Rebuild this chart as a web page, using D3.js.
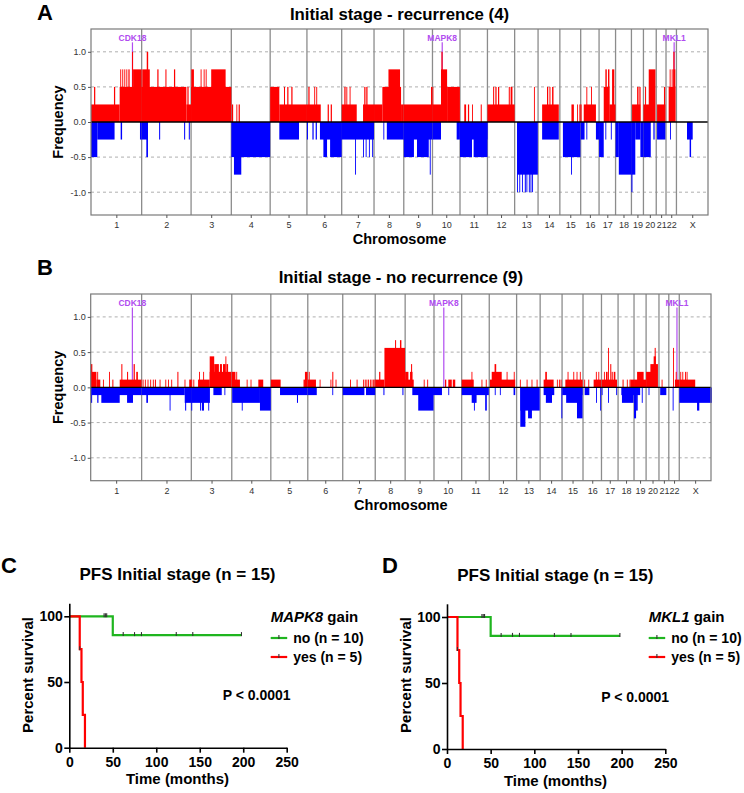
<!DOCTYPE html>
<html>
<head>
<meta charset="utf-8">
<script src="https://cdn.jsdelivr.net/npm/d3@7"></script>
<style>
  body { margin: 0; background: #fff; }
  text { font-family: Arial, "Liberation Sans", sans-serif; }
</style>
</head>
<body>
<div id="chart-area"></div>
<script>
// ---- DATA ----
var chromosomes = ["1", "2", "3", "4", "5", "6", "7", "8", "9", "10", "11", "12",
    "13", "14", "15", "16", "17", "18", "19", "20", "21", "22", "X"];
var chromLengths = [249.3, 243.2, 198.0, 191.2, 180.9, 171.1, 159.1, 146.4, 141.2, 135.5, 135.0, 133.9,
    115.2, 107.3, 102.5, 90.4, 81.2, 78.1, 59.1, 63.0, 48.1, 51.3, 155.3];
var freqTicks = [-1.0, -0.5, 0.0, 0.5, 1.0];
var gridValues = [-1.0, -0.5, 0.5, 1.0];

var geneNames = ["CDK18", "MAPK8", "MKL1"];
var geneChroms = ["1", "10", "22"];
var genePositions = [204, 48, 40];

// [chromosome, start Mb, end Mb, frequency]
var recurrenceGain = [
    ["1", 0, 141, 0.25], ["1", 15, 21, 0.5], ["1", 113, 119, 0.5], ["1", 141, 249, 0.5],
    ["1", 144, 148, 0.75], ["1", 154, 158, 0.75], ["1", 164, 168, 0.75], ["1", 174, 178, 0.75],
    ["1", 184, 190, 0.75], ["1", 202, 207, 1.0], ["1", 207, 249, 0.75],
    ["2", 0, 220, 0.5], ["2", 220, 243, 0.25], ["2", 3, 40, 0.75], ["2", 25, 32, 1.0],
    ["2", 77, 83, 0.75], ["2", 117, 122, 0.75], ["2", 159, 165, 0.75], ["2", 225, 231, 0.5],
    ["3", 0, 198, 0.5], ["3", 1, 14, 0.75], ["3", 47, 51, 0.75], ["3", 62, 66, 0.75],
    ["3", 72, 76, 0.75], ["3", 99, 170, 0.75],
    ["4", 3, 9, 0.25], ["4", 25, 29, 0.25], ["4", 36, 42, 0.25],
    ["5", 0, 45, 0.5], ["5", 45, 181, 0.25], ["5", 68, 73, 0.5], ["5", 84, 90, 0.5], ["5", 104, 110, 0.5],
    ["6", 0, 68, 0.25], ["6", 7, 13, 0.5], ["6", 36, 40, 0.5], ["6", 46, 50, 0.5],
    ["6", 102, 108, 0.25], ["6", 117, 123, 0.25],
    ["7", 0, 74, 0.25], ["7", 13, 19, 0.5], ["7", 23, 27, 0.5], ["7", 39, 43, 0.5],
    ["7", 105, 159, 0.25], ["7", 111, 117, 0.5], ["7", 121, 127, 0.5],
    ["8", 0, 41, 0.25], ["8", 48, 53, 0.5], ["8", 41, 133, 0.5], ["8", 71, 128, 0.75], ["8", 133, 146, 0.25],
    ["9", 0, 141, 0.25], ["9", 134, 139, 0.5],
    ["10", 0, 42, 0.25], ["10", 0, 4, 0.5], ["10", 42, 72, 0.75], ["10", 44, 50, 1.0], ["10", 72, 135, 0.5],
    ["11", 21, 30, 0.25], ["11", 39, 45, 0.25], ["11", 59, 63, 0.25], ["11", 102, 107, 0.25],
    ["12", 0, 134, 0.25], ["12", 28, 33, 0.5], ["12", 39, 45, 0.5], ["12", 52, 58, 0.5],
    ["12", 105, 110, 0.5], ["12", 114, 123, 0.5],
    ["13", 95, 99, 0.5],
    ["14", 20, 102, 0.25], ["14", 44, 50, 0.5], ["14", 56, 61, 0.5], ["14", 69, 76, 0.5],
    ["15", 57, 69, 0.25], ["15", 85, 89, 0.25], ["15", 96, 102, 0.25],
    ["16", 0, 4, 0.25], ["16", 15, 75, 0.25], ["16", 28, 32, 0.5], ["16", 51, 55, 0.5],
    ["17", 23, 51, 0.5], ["17", 51, 81, 0.25], ["17", 31, 38, 0.75], ["17", 44, 51, 0.75], ["17", 64, 75, 0.75],
    ["19", 3, 44, 0.25], ["19", 28, 35, 0.5], ["19", 39, 45, 0.5],
    ["20", 0, 28, 0.25], ["20", 8, 13, 0.5], ["20", 26, 59, 0.75],
    ["21", 4, 45, 0.25], ["21", 38, 44, 0.5],
    ["22", 13, 46, 0.5], ["22", 18, 22, 0.75], ["22", 28, 32, 0.75], ["22", 36, 46, 0.75], ["22", 36, 42, 1.0]
];
var recurrenceLoss = [
    ["1", 0, 31, -0.5], ["1", 31, 116, -0.25], ["1", 146, 153, -0.25], ["1", 241, 249, -0.25],
    ["2", 0, 31, -0.25], ["2", 23, 31, -0.5], ["2", 86, 91, -0.25], ["2", 209, 214, -0.25], ["2", 232, 237, -0.25],
    ["4", 0, 191, -0.5], ["4", 13, 49, -0.75],
    ["5", 45, 142, -0.25],
    ["6", 0, 5, -0.25], ["6", 27, 33, -0.25], ["6", 43, 49, -0.25], ["6", 64, 171, -0.25],
    ["6", 81, 99, -0.5], ["6", 114, 171, -0.5],
    ["7", 0, 159, -0.25], ["7", 66, 70, -0.75], ["7", 105, 109, -0.5], ["7", 118, 122, -0.5],
    ["7", 134, 138, -0.5], ["7", 150, 154, -0.5],
    ["8", 46, 50, -0.25], ["8", 63, 146, -0.25],
    ["9", 0, 141, -0.25], ["9", 0, 50, -0.5], ["9", 65, 123, -0.5], ["9", 128, 132, -0.75],
    ["10", 0, 42, -0.25], ["10", 119, 135, -0.25],
    ["11", 0, 135, -0.25], ["11", 0, 59, -0.5], ["11", 67, 135, -0.5],
    ["13", 12, 114, -0.75], ["13", 12, 16, -1.0], ["13", 23, 27, -1.0], ["13", 36, 40, -1.0],
    ["13", 50, 55, -1.0], ["13", 58, 62, -1.0], ["13", 70, 74, -1.0], ["13", 78, 82, -1.0], ["13", 86, 90, -1.0],
    ["14", 20, 102, -0.25],
    ["15", 15, 101, -0.5], ["15", 55, 59, -0.75],
    ["16", 0, 19, -0.25], ["16", 28, 32, -0.25], ["16", 75, 90, -0.25],
    ["17", 0, 23, -0.5], ["17", 31, 35, -0.25], ["17", 58, 62, -0.25],
    ["18", 0, 16, -0.5], ["18", 16, 78, -0.75],
    ["19", 0, 19, -0.75], ["19", 0, 5, -1.0], ["19", 19, 44, -0.25], ["19", 44, 59, -0.5],
    ["20", 0, 36, -0.5], ["20", 49, 55, -0.25],
    ["21", 4, 45, -0.25],
    ["22", 20, 24, -0.25],
    ["X", 52, 80, -0.25], ["X", 65, 72, -0.5]
];

var noRecurrenceGain = [
    ["1", 1, 28, 0.22], ["1", 1, 8, 0.33], ["1", 28, 47, 0.11], ["1", 32, 36, 0.22], ["1", 60, 64, 0.11],
    ["1", 90, 94, 0.22], ["1", 106, 111, 0.11], ["1", 142, 249, 0.11], ["1", 150, 155, 0.33],
    ["1", 178, 183, 0.22], ["1", 210, 216, 0.33], ["1", 223, 231, 0.22],
    ["2", 5, 9, 0.11], ["2", 16, 20, 0.11], ["2", 29, 33, 0.11], ["2", 42, 46, 0.11], ["2", 55, 59, 0.11],
    ["2", 65, 70, 0.11], ["2", 88, 92, 0.11], ["2", 116, 120, 0.11], ["2", 129, 133, 0.11],
    ["2", 145, 149, 0.11], ["2", 175, 180, 0.22], ["2", 210, 214, 0.11], ["2", 233, 243, 0.11],
    ["3", 0, 3, 0.11], ["3", 10, 14, 0.11], ["3", 33, 90, 0.11], ["3", 38, 42, 0.22], ["3", 58, 62, 0.22],
    ["3", 90, 196, 0.22], ["3", 90, 112, 0.44], ["3", 112, 135, 0.33], ["3", 140, 150, 0.33],
    ["3", 155, 168, 0.33], ["3", 167, 171, 0.44], ["3", 172, 180, 0.33],
    ["4", 0, 40, 0.11], ["4", 0, 18, 0.22], ["4", 22, 26, 0.22], ["4", 73, 77, 0.11], ["4", 92, 96, 0.11],
    ["4", 130, 154, 0.11],
    ["5", 0, 48, 0.11], ["5", 160, 167, 0.11], ["5", 167, 180, 0.22],
    ["6", 0, 40, 0.11], ["6", 5, 8, 0.22], ["6", 58, 62, 0.11], ["6", 111, 115, 0.11], ["6", 120, 125, 0.22],
    ["6", 136, 140, 0.11],
    ["7", 36, 40, 0.11], ["7", 68, 72, 0.11], ["7", 100, 103, 0.11], ["7", 108, 111, 0.11],
    ["7", 116, 119, 0.11], ["7", 124, 127, 0.11], ["7", 133, 136, 0.11], ["7", 141, 144, 0.11],
    ["7", 149, 152, 0.11], ["7", 155, 159, 0.11],
    ["8", 0, 45, 0.11], ["8", 19, 25, 0.22], ["8", 45, 146, 0.56], ["8", 97, 102, 0.67], ["8", 121, 128, 0.67],
    ["9", 0, 42, 0.11], ["9", 0, 16, 0.22], ["9", 24, 36, 0.22], ["9", 29, 34, 0.33], ["9", 91, 95, 0.11],
    ["9", 108, 112, 0.11],
    ["10", 54, 60, 0.11], ["10", 70, 87, 0.11], ["10", 92, 104, 0.11],
    ["11", 0, 59, 0.11], ["11", 48, 52, 0.22], ["11", 97, 101, 0.11], ["11", 118, 122, 0.11],
    ["12", 3, 127, 0.11], ["12", 12, 61, 0.22], ["12", 26, 34, 0.33], ["12", 85, 89, 0.22], ["12", 120, 124, 0.22],
    ["13", 16, 20, 0.11], ["13", 49, 53, 0.11], ["13", 73, 77, 0.11], ["13", 98, 102, 0.11],
    ["14", 17, 66, 0.11], ["14", 25, 33, 0.22], ["14", 82, 86, 0.11], ["14", 92, 96, 0.11], ["14", 100, 104, 0.11],
    ["15", 16, 101, 0.11], ["15", 27, 31, 0.22], ["15", 55, 59, 0.22], ["15", 71, 75, 0.22], ["15", 87, 91, 0.22],
    ["16", 6, 10, 0.11], ["16", 26, 30, 0.11], ["16", 52, 90, 0.11], ["16", 63, 67, 0.22], ["16", 75, 79, 0.22],
    ["17", 2, 76, 0.11], ["17", 12, 16, 0.22], ["17", 22, 30, 0.22], ["17", 32, 36, 0.56], ["17", 43, 48, 0.33],
    ["17", 50, 55, 0.22], ["17", 60, 68, 0.22],
    ["18", 22, 27, 0.11], ["18", 43, 46, 0.11], ["18", 56, 59, 0.11], ["18", 60, 78, 0.11],
    ["19", 0, 59, 0.11], ["19", 15, 47, 0.22],
    ["20", 0, 29, 0.22], ["20", 21, 58, 0.33], ["20", 37, 48, 0.44], ["20", 42, 47, 0.56],
    ["21", 13, 17, 0.11],
    ["22", 21, 25, 0.56], ["22", 30, 50, 0.11], ["22", 34, 38, 0.22],
    ["X", 0, 78, 0.11], ["X", 5, 9, 0.22], ["X", 15, 19, 0.22], ["X", 28, 32, 0.22], ["X", 36, 40, 0.22]
];
var noRecurrenceLoss = [
    ["1", 0, 249, -0.11], ["1", 1, 7, -0.22], ["1", 32, 38, -0.22], ["1", 52, 142, -0.22], ["1", 178, 207, -0.22],
    ["2", 0, 211, -0.11], ["2", 23, 31, -0.22], ["2", 137, 141, -0.33], ["2", 211, 243, -0.22], ["2", 213, 218, -0.33],
    ["3", 0, 91, -0.22], ["3", 0, 3, -0.33], ["3", 43, 48, -0.33], ["3", 52, 62, -0.33], ["3", 83, 87, -0.33],
    ["3", 108, 149, -0.11], ["3", 162, 165, -0.11],
    ["4", 2, 138, -0.22], ["4", 49, 53, -0.33], ["4", 138, 191, -0.33],
    ["5", 45, 180, -0.11], ["5", 128, 133, -0.22],
    ["6", 0, 44, -0.11], ["6", 120, 124, -0.11],
    ["7", 0, 106, -0.11], ["7", 114, 159, -0.11],
    ["8", 40, 45, -0.11], ["8", 133, 138, -0.11],
    ["9", 35, 141, -0.11], ["9", 64, 139, -0.33],
    ["10", 0, 39, -0.11], ["10", 70, 74, -0.11],
    ["11", 0, 133, -0.11], ["11", 49, 73, -0.22], ["11", 60, 64, -0.33], ["11", 115, 123, -0.33],
    ["12", 27, 31, -0.11], ["12", 52, 56, -0.11], ["12", 119, 127, -0.11],
    ["13", 18, 113, -0.33], ["13", 18, 43, -0.56], ["13", 56, 75, -0.44],
    ["14", 17, 69, -0.11], ["14", 28, 58, -0.22], ["14", 104, 106, -0.44],
    ["15", 1, 100, -0.11], ["15", 20, 97, -0.22], ["15", 73, 100, -0.44],
    ["16", 8, 31, -0.11], ["16", 64, 67, -0.22], ["16", 84, 87, -0.33],
    ["17", 1, 4, -0.11], ["17", 32, 36, -0.22], ["17", 72, 76, -0.11],
    ["18", 16, 78, -0.11], ["18", 19, 76, -0.22],
    ["19", 0, 30, -0.11], ["19", 0, 10, -0.44], ["19", 10, 18, -0.33], ["19", 38, 42, -0.22],
    ["20", 12, 15, -0.11],
    ["21", 6, 36, -0.11],
    ["22", 19, 23, -0.33],
    ["X", 0, 160, -0.22], ["X", 87, 98, -0.33]
];

// Kaplan-Meier (PFS, months / percent survival)
var kmTimeTicks = [0, 50, 100, 150, 200, 250];
var kmSurvTicks = [0, 50, 100];
var noGainTimes = [0, 50, 198];
var noGainSurvival = [100, 85.7, 85.7];
var noGainCensored = [40, 41.5, 43, 62, 75, 83, 123, 142, 198];
var yesGainTimes = [0, 12, 14, 15.5, 18];
var yesGainSurvival = [100, 75, 50, 25, 0];
var yesGainCensored = [12];

var RED = "#ff0000", BLUE = "#0000ff", PURPLE = "#b14cf0", GREEN = "#1fb51f";

var svg = d3.select("#chart-area").append("svg")
    .attr("width", 744).attr("height", 793);

// ---- COPY NUMBER FREQUENCY PANELS ----
function drawFrequency(cfg) {
    var total = d3.sum(chromLengths);
    var ends = Array.from(d3.cumsum(chromLengths));
    var starts = ends.map(function (e, i) { return e - chromLengths[i]; });
    var mids = starts.map(function (s, i) { return s + chromLengths[i] / 2; });
    var idx = {};
    chromosomes.forEach(function (c, i) { idx[c] = i; });

    var x = d3.scaleLinear().domain([0, total]).range([cfg.left, cfg.right]);
    var y = d3.scaleLinear().domain([-1.325, 1.325]).range([cfg.bottom, cfg.top]);
    function gx(chr, mb) { return x(starts[idx[chr]] + mb); }

    var g = svg.append("g");

    // dashed grid
    g.selectAll(".grid").data(gridValues).enter().append("line")
        .attr("x1", cfg.left).attr("x2", cfg.right)
        .attr("y1", function (d) { return y(d); }).attr("y2", function (d) { return y(d); })
        .attr("stroke", "#9a9a9a").attr("stroke-width", 0.8).attr("stroke-dasharray", "3,3");

    // chromosome separators
    g.selectAll(".sep").data(ends.slice(0, -1)).enter().append("line")
        .attr("x1", function (d) { return x(d); }).attr("x2", function (d) { return x(d); })
        .attr("y1", cfg.top).attr("y2", cfg.bottom)
        .attr("stroke", "#8c8c8c").attr("stroke-width", 1.3);

    // gene markers
    g.selectAll(".gene").data(geneNames).enter().append("line")
        .attr("x1", function (d, i) { return gx(geneChroms[i], genePositions[i]); })
        .attr("x2", function (d, i) { return gx(geneChroms[i], genePositions[i]); })
        .attr("y1", y(1.135)).attr("y2", y(0))
        .attr("stroke", PURPLE).attr("stroke-width", 1.2);

    // gains
    g.selectAll(".gain").data(cfg.gains).enter().append("rect")
        .attr("x", function (d) { return gx(d[0], d[1]); })
        .attr("width", function (d) { return Math.max(0.9, gx(d[0], d[2]) - gx(d[0], d[1])); })
        .attr("y", function (d) { return y(d[3]); })
        .attr("height", function (d) { return y(0) - y(d[3]); })
        .attr("fill", RED);

    // losses
    g.selectAll(".loss").data(cfg.losses).enter().append("rect")
        .attr("x", function (d) { return gx(d[0], d[1]); })
        .attr("width", function (d) { return Math.max(0.9, gx(d[0], d[2]) - gx(d[0], d[1])); })
        .attr("y", y(0))
        .attr("height", function (d) { return y(d[3]) - y(0); })
        .attr("fill", BLUE);

    // zero line
    g.append("line")
        .attr("x1", cfg.left).attr("x2", cfg.right)
        .attr("y1", y(0)).attr("y2", y(0))
        .attr("stroke", "#000").attr("stroke-width", 1.4);

    // frame
    g.append("rect")
        .attr("x", cfg.left).attr("y", cfg.top)
        .attr("width", cfg.right - cfg.left).attr("height", cfg.bottom - cfg.top)
        .attr("fill", "none").attr("stroke", "#7a7a7a").attr("stroke-width", 1.2);

    // gene labels
    g.selectAll(".geneLabel").data(geneNames).enter().append("text")
        .attr("x", function (d, i) { return gx(geneChroms[i], genePositions[i]); })
        .attr("y", y(1.15))
        .attr("text-anchor", "middle")
        .attr("font-size", "8.5px").attr("font-weight", "bold")
        .attr("fill", PURPLE)
        .text(function (d) { return d; });

    // Y AXIS
    var yAxisCall = d3.axisLeft(y).tickValues(freqTicks)
        .tickFormat(function (d) { return d.toFixed(1); })
        .tickSize(3).tickPadding(2);
    var yAxis = g.append("g").attr("transform", "translate(" + cfg.left + ",0)").call(yAxisCall);
    yAxis.select(".domain").remove();
    yAxis.selectAll("line").attr("stroke", "#555");
    yAxis.selectAll("text").attr("font-size", "9px").attr("fill", "#333")
        .attr("font-family", "Arial, 'Liberation Sans', sans-serif");

    // X AXIS
    var xAxisCall = d3.axisBottom(x).tickValues(mids)
        .tickFormat(function (d, i) { return chromosomes[i]; })
        .tickSize(3).tickPadding(3.5);
    var xAxis = g.append("g").attr("transform", "translate(0," + cfg.bottom + ")").call(xAxisCall);
    xAxis.select(".domain").remove();
    xAxis.selectAll("line").attr("stroke", "#555");
    xAxis.selectAll("text").attr("font-size", "9px").attr("fill", "#333")
        .attr("font-family", "Arial, 'Liberation Sans', sans-serif");

    // labels
    g.append("text")
        .attr("x", (cfg.left + cfg.right) / 2).attr("y", cfg.xLabelY)
        .attr("text-anchor", "middle").attr("font-size", "14.5px").attr("font-weight", "bold")
        .text("Chromosome");
    g.append("text")
        .attr("transform", "translate(" + cfg.yLabelX + "," + y(0) + ") rotate(-90)")
        .attr("text-anchor", "middle").attr("font-size", "14.5px").attr("font-weight", "bold")
        .text("Frequency");
    g.append("text")
        .attr("x", (cfg.left + cfg.right) / 2).attr("y", cfg.titleY)
        .attr("text-anchor", "middle").attr("font-size", "16.8px").attr("font-weight", "bold")
        .text(cfg.title);
    g.append("text")
        .attr("x", cfg.letterX).attr("y", cfg.letterY)
        .attr("font-size", "22px").attr("font-weight", "bold")
        .text(cfg.letter);
}

drawFrequency({
    left: 91, right: 708, top: 29, bottom: 215,
    gains: recurrenceGain, losses: recurrenceLoss,
    title: "Initial stage - recurrence (4)", titleY: 20,
    letter: "A", letterX: 37, letterY: 20,
    xLabelY: 244, yLabelX: 63
});
drawFrequency({
    left: 90.7, right: 711, top: 294, bottom: 480.7,
    gains: noRecurrenceGain, losses: noRecurrenceLoss,
    title: "Initial stage - no recurrence (9)", titleY: 283,
    letter: "B", letterX: 37, letterY: 275,
    xLabelY: 510, yLabelX: 63
});

// ---- KAPLAN-MEIER PANELS ----
function stepValue(times, surv, t) {
    var i = d3.bisectRight(times, t) - 1;
    return surv[Math.max(0, i)];
}

function drawSurvival(cfg) {
    var x = d3.scaleLinear().domain([0, 250]).range([cfg.x0, cfg.x250]);
    var y = d3.scaleLinear().domain([0, 110])
        .range([cfg.y0, cfg.y0 - 1.1 * (cfg.y0 - cfg.y100)]);
    var g = svg.append("g");

    var line = d3.line()
        .x(function (d) { return x(d[0]); })
        .y(function (d) { return y(d[1]); })
        .curve(d3.curveStepAfter);

    var groups = [
        { times: noGainTimes, surv: noGainSurvival, cens: noGainCensored, color: GREEN, label: "no (n = 10)" },
        { times: yesGainTimes, surv: yesGainSurvival, cens: yesGainCensored, color: RED, label: "yes (n = 5)" }
    ];

    groups.forEach(function (grp) {
        g.append("path")
            .datum(d3.zip(grp.times, grp.surv))
            .attr("fill", "none").attr("stroke", grp.color).attr("stroke-width", 2.2)
            .attr("d", line);
        g.selectAll(null).data(grp.cens).enter().append("line")
            .attr("x1", function (d) { return x(d); }).attr("x2", function (d) { return x(d); })
            .attr("y1", function (d) { return y(stepValue(grp.times, grp.surv, d)) - 3; })
            .attr("y2", function (d) { return y(stepValue(grp.times, grp.surv, d)) + 1; })
            .attr("stroke", "#333").attr("stroke-width", 1.1);
    });

    // X AXIS
    var xAxisCall = d3.axisBottom(x).tickValues(kmTimeTicks).tickSize(5).tickSizeOuter(0).tickPadding(4);
    var xAxis = g.append("g").attr("transform", "translate(0," + cfg.y0 + ")").call(xAxisCall);
    // Y AXIS
    var yAxisCall = d3.axisLeft(y).tickValues(kmSurvTicks).tickSize(5).tickSizeOuter(0).tickPadding(1.5);
    var yAxis = g.append("g").attr("transform", "translate(" + cfg.x0 + ",0)").call(yAxisCall);
    [xAxis, yAxis].forEach(function (ax) {
        ax.select(".domain").attr("stroke-width", 1.6);
        ax.selectAll("line").attr("stroke-width", 1.6);
        ax.selectAll("text").attr("font-size", "14px").attr("font-weight", "bold").attr("fill", "#000")
            .attr("font-family", "Arial, 'Liberation Sans', sans-serif");
    });

    // axis labels
    g.append("text")
        .attr("x", cfg.xLabelX).attr("y", cfg.xLabelY)
        .attr("text-anchor", "middle").attr("font-size", "15px").attr("font-weight", "bold")
        .text("Time (months)");
    g.append("text")
        .attr("transform", "translate(" + cfg.yLabelX + "," + cfg.yLabelY + ") rotate(-90)")
        .attr("text-anchor", "middle").attr("font-size", "15px").attr("font-weight", "bold")
        .text("Percent survival");

    // title and letter
    g.append("text")
        .attr("x", cfg.titleX).attr("y", cfg.titleY)
        .attr("text-anchor", "middle").attr("font-size", "17px").attr("font-weight", "bold")
        .text("PFS Initial stage (n = 15)");
    g.append("text")
        .attr("x", cfg.letterX).attr("y", 573)
        .attr("font-size", "22px").attr("font-weight", "bold")
        .text(cfg.letter);

    // legend
    var lt = g.append("text")
        .attr("x", cfg.legendX).attr("y", 621.5)
        .attr("font-size", "15px").attr("font-weight", "bold");
    lt.append("tspan").attr("font-style", "italic").text(cfg.gene);
    lt.append("tspan").text(" gain");

    groups.forEach(function (grp, i) {
        var ly = 638 + i * 19;
        g.append("line")
            .attr("x1", cfg.legendX).attr("x2", cfg.legendX + 16.5)
            .attr("y1", ly).attr("y2", ly)
            .attr("stroke", grp.color).attr("stroke-width", 2.2);
        g.append("line")
            .attr("x1", cfg.legendX + 8.2).attr("x2", cfg.legendX + 8.2)
            .attr("y1", ly - 3).attr("y2", ly + 1)
            .attr("stroke", "#333").attr("stroke-width", 1.1);
        g.append("text")
            .attr("x", cfg.legendX + 22.5).attr("y", ly + 4.5)
            .attr("font-size", "14px").attr("font-weight", "bold")
            .text(grp.label);
    });

    g.append("text")
        .attr("x", cfg.pX).attr("y", cfg.pY)
        .attr("font-size", "14px").attr("font-weight", "bold")
        .text("P < 0.0001");
}

drawSurvival({
    x0: 69.3, x250: 286.7, y0: 747.7, y100: 616.3,
    gene: "MAPK8", legendX: 270.7,
    titleX: 177.5, titleY: 580, letter: "C", letterX: 1,
    xLabelX: 177.5, xLabelY: 784, yLabelX: 33, yLabelY: 675,
    pX: 222.7, pY: 700
});
drawSurvival({
    x0: 447, x250: 665.3, y0: 749, y100: 617,
    gene: "MKL1", legendX: 648.7,
    titleX: 555.3, titleY: 580.7, letter: "D", letterX: 382,
    xLabelX: 555.5, xLabelY: 786, yLabelX: 411, yLabelY: 675,
    pX: 601.3, pY: 701.5
});
</script>
</body>
</html>
